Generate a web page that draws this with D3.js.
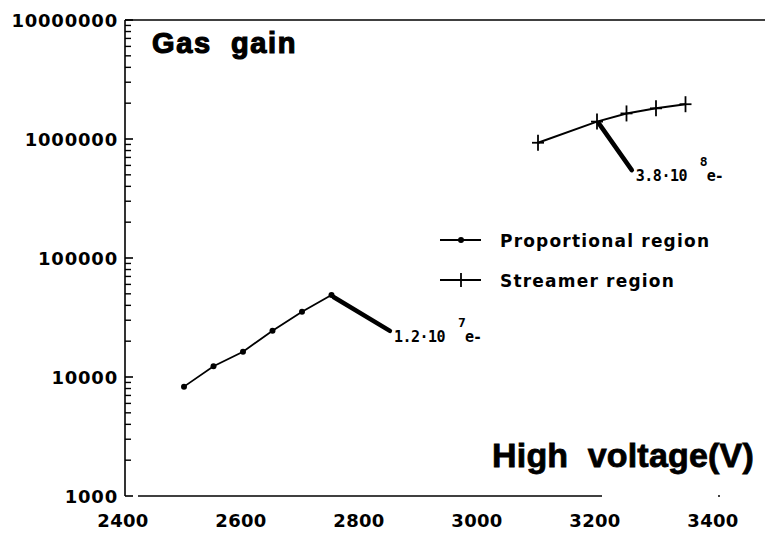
<!DOCTYPE html>
<html><head><meta charset="utf-8">
<script src="https://cdn.jsdelivr.net/npm/d3@7"></script>
<style>body{margin:0;background:#fff}svg{display:block}</style>
</head><body>
<svg id="c" width="765" height="537"></svg>
<script>
const propVoltage = [2500, 2550, 2600, 2650, 2700, 2750];
const propGain    = [8300, 12300, 16300, 24500, 35400, 48900];
const strVoltage  = [3100, 3200, 3250, 3300, 3350];
const strGain     = [930000, 1400000, 1640000, 1810000, 1960000];
const xTicks = [2400, 2600, 2800, 3000, 3200, 3400];
const yTicks = [1000, 10000, 100000, 1000000, 10000000];
const seriesNames = ["Proportional region", "Streamer region"];
const annotations = [
  {from:[2750, 48900], to:[2849, 24400], mant:"1.2·10", exp:"7"},
  {from:[3200, 1400000], to:[3259, 548000], mant:"3.8·10", exp:"8"}
];

const svg = d3.select("#c");
const x = d3.scaleLinear().domain([2400, 3400]).range([125, 715]);
const y = d3.scaleLog().domain([1000, 10000000]).range([496, 20]);
const font = "'Liberation Sans', Arial, sans-serif";
const tickFont = "'DejaVu Sans', sans-serif";

// frame lines
svg.append("line").attr("x1", 125).attr("x2", 765).attr("y1", y(1e7)).attr("y2", y(1e7))
  .attr("stroke", "#000").attr("stroke-width", 1.6);
svg.append("line").attr("x1", 125).attr("x2", 125).attr("y1", y(1e7)).attr("y2", y(1000))
  .attr("stroke", "#000").attr("stroke-width", 1.6);
svg.append("line").attr("x1", 138).attr("x2", 602).attr("y1", y(1000)).attr("y2", y(1000))
  .attr("stroke", "#000").attr("stroke-width", 1.4);
svg.append("circle").attr("cx", 719).attr("cy", y(1000)).attr("r", 1).attr("fill", "#000");

// y ticks (inward)
const minor = [];
for (let d = 1000; d < 1e7; d *= 10) for (let k = 2; k <= 9; k++) minor.push(d * k);
const tickG = svg.append("g").attr("class", "yticks");
tickG.selectAll("rect.major").data(yTicks).join("rect").attr("class", "major")
  .attr("x", 125).attr("width", 8).attr("y", d => y(d) - 0.8).attr("height", 1.6)
  .attr("fill", "#000");
tickG.selectAll("rect.minor").data(minor).join("rect").attr("class", "minor")
  .attr("x", 125).attr("width", 6).attr("y", d => y(d) - 0.7).attr("height", 1.4)
  .attr("fill", "#000");

// y labels
svg.append("g").selectAll("text").data(yTicks).join("text")
  .attr("x", 118).attr("y", d => y(d) + 7).attr("text-anchor", "end")
  .attr("font-family", tickFont).attr("font-weight", "bold").attr("font-size", 18)
  .attr("letter-spacing", 0.8)
  .text(d => d);

// x labels
svg.append("g").selectAll("text").data(xTicks).join("text")
  .attr("x", d => x(d) - 2).attr("y", 527).attr("text-anchor", "middle")
  .attr("font-family", tickFont).attr("font-weight", "bold").attr("font-size", 18)
  .attr("letter-spacing", 0.3)
  .text(d => d);

// titles
svg.append("text").attr("x", 152).attr("y", 53).attr("font-family", font)
  .attr("font-weight", "bold").attr("font-size", 29).attr("letter-spacing", 1.6)
  .attr("stroke", "#000").attr("stroke-width", 1.2)
  .text("Gas\u00a0 gain");
svg.append("text").attr("x", 492).attr("y", 467).attr("font-family", font)
  .attr("font-weight", "bold").attr("font-size", 34).attr("letter-spacing", 0.2)
  .attr("stroke", "#000").attr("stroke-width", 0.8)
  .text("High\u00a0 voltage(V)");

// series
const line = d3.line().x(d => x(d[0])).y(d => y(d[1]));
const prop = propVoltage.map((v, i) => [v, propGain[i]]);
const str = strVoltage.map((v, i) => [v, strGain[i]]);
svg.append("path").attr("d", line(prop)).attr("fill", "none").attr("stroke", "#000").attr("stroke-width", 1.8);
svg.append("g").selectAll("circle").data(prop).join("circle")
  .attr("cx", d => x(d[0])).attr("cy", d => y(d[1])).attr("r", 3).attr("fill", "#000");
svg.append("path").attr("d", line(str)).attr("fill", "none").attr("stroke", "#000").attr("stroke-width", 2);
const cross = svg.append("g").selectAll("g").data(str).join("g")
  .attr("transform", d => `translate(${x(d[0])},${y(d[1])})`);
cross.append("line").attr("x1", -6).attr("x2", 6).attr("stroke", "#000").attr("stroke-width", 1.8);
cross.append("line").attr("y1", -8).attr("y2", 8).attr("stroke", "#000").attr("stroke-width", 1.8);

// annotations
const mono = "'DejaVu Sans Mono', 'Liberation Mono', monospace";
annotations.forEach(a => {
  const x0 = x(a.from[0]), y0 = y(a.from[1]), x1 = x(a.to[0]), y1 = y(a.to[1]);
  svg.append("line").attr("x1", x0 + 2).attr("y1", y0 + 2).attr("x2", x1).attr("y2", y1)
    .attr("stroke", "#000").attr("stroke-width", 4.5).attr("stroke-linecap", "round");
  svg.append("text").attr("x", x1 + 4).attr("y", y1 + 11)
    .attr("font-family", mono).attr("font-weight", "bold").attr("font-size", 15)
    .attr("letter-spacing", -0.5).text(a.mant);
  svg.append("text").attr("x", x1 + 68).attr("y", y1 - 4)
    .attr("font-family", mono).attr("font-weight", "bold").attr("font-size", 13).text(a.exp);
  svg.append("text").attr("x", x1 + 75).attr("y", y1 + 11)
    .attr("font-family", mono).attr("font-weight", "bold").attr("font-size", 15)
    .attr("letter-spacing", -1).text("e-");
});

// legend
const lg = svg.append("g");
[0, 1].forEach(i => {
  const ly = 240 + i * 40;
  lg.append("line").attr("x1", 440).attr("x2", 481).attr("y1", ly).attr("y2", ly)
    .attr("stroke", "#000").attr("stroke-width", 2);
  if (i === 0) lg.append("circle").attr("cx", 461).attr("cy", ly).attr("r", 3).attr("fill", "#000");
  else lg.append("line").attr("x1", 461).attr("x2", 461).attr("y1", ly - 7).attr("y2", ly + 7)
    .attr("stroke", "#000").attr("stroke-width", 1.8);
  lg.append("text").attr("x", 500).attr("y", ly + 7).attr("font-family", tickFont)
    .attr("font-weight", "bold").attr("font-size", 17).attr("letter-spacing", 1.2)
    .text(seriesNames[i]);
});
</script>
</body></html>
